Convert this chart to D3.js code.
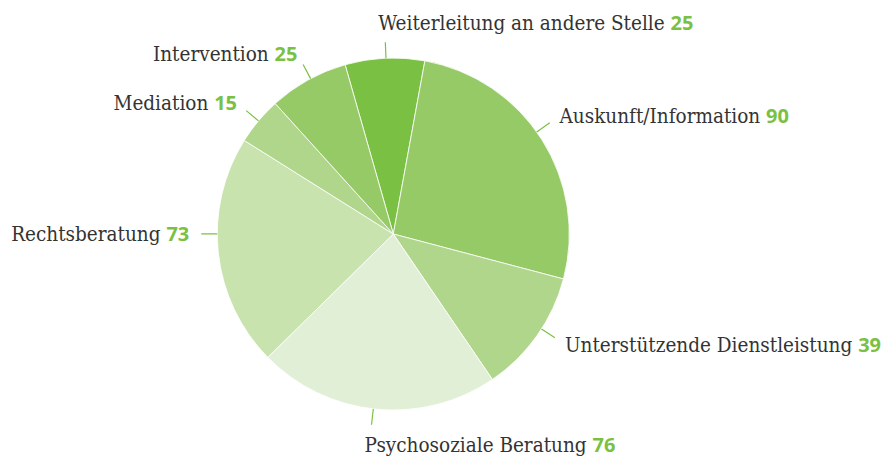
<!DOCTYPE html>
<html>
<head>
<meta charset="utf-8">
<script src="https://cdn.jsdelivr.net/npm/d3@7"></script>
<style>
  html, body { margin: 0; padding: 0; background: #fff; }
  svg { display: block; }
  .lbl { font-family: "DejaVu Serif Condensed", "DejaVu Serif", serif; font-stretch: condensed; font-size: 20.5px; fill: #333; }
  .num { font-family: "Open Sans", "DejaVu Sans", sans-serif; font-stretch: normal; font-weight: 700; font-size: 20px; fill: #7ac143; }
</style>
</head>
<body>
<svg id="chart" width="889" height="459"></svg>
<script>
// ---- data ----
const categories = [
  "Weiterleitung an andere Stelle",
  "Auskunft/Information",
  "Unterstützende Dienstleistung",
  "Psychosoziale Beratung",
  "Rechtsberatung",
  "Mediation",
  "Intervention"
];
const values = [25, 90, 39, 76, 73, 15, 25];
const colors = ["#7ac143", "#95ca66", "#b0d68c", "#e0efd5", "#c8e3ae", "#b0d68c", "#95ca66"];

// ---- layout ----
const W = 889, H = 459;
const cx = 393.3, cy = 234, R = 176;
const startDeg = -15.9;
const tickLen = 16, labelGap = 12;
// small label-angle nudges (degrees) to mimic the original label placement
const labelNudge = {"Weiterleitung an andere Stelle": 0.4, "Auskunft/Information": -3, "Unterstützende Dienstleistung": -2.6,
  "Psychosoziale Beratung": 0.9, "Rechtsberatung": 6.2, "Mediation": 0, "Intervention": 1};

const svg = d3.select("#chart");
const g = svg.append("g").attr("transform", `translate(${cx},${cy})`);

const data = categories.map((c, i) => ({cat: c, value: values[i], color: colors[i]}));
const rad = Math.PI / 180;
const pie = d3.pie().value(d => d.value).sort(null)
  .startAngle(startDeg * rad).endAngle((startDeg + 360) * rad);
const arcs = pie(data);
const arc = d3.arc().innerRadius(0).outerRadius(R);

g.selectAll("path.slice").data(arcs).join("path")
  .attr("class", "slice")
  .attr("d", arc)
  .attr("fill", d => d.data.color)
  .attr("stroke", "#fff")
  .attr("stroke-width", 0.8)
  .attr("stroke-linejoin", "round");

const capH = 14.8;
arcs.forEach(a => {
  const ang = (a.startAngle + a.endAngle) / 2 + (labelNudge[a.data.cat] || 0) * rad;
  const s = Math.sin(ang), c = -Math.cos(ang);
  const p0 = [R * s, R * c], p1 = [(R + tickLen) * s, (R + tickLen) * c];
  const pl = [(R + tickLen + labelGap) * s, (R + tickLen + labelGap) * c];
  g.append("line")
    .attr("x1", p0[0]).attr("y1", p0[1]).attr("x2", p1[0]).attr("y2", p1[1])
    .attr("stroke", "#7ac143").attr("stroke-width", 1.2);
  let x, y, anchor;
  if (Math.abs(s) > 0.3) {
    x = pl[0]; y = pl[1] + capH / 2; anchor = s > 0 ? "start" : "end";
  } else {
    x = p1[0] - 7; anchor = "start";
    y = c < 0 ? p1[1] - labelGap : p1[1] + labelGap + capH;
  }
  const t = g.append("text").attr("class", "lbl")
    .attr("x", x).attr("y", y).attr("text-anchor", anchor);
  t.append("tspan").text(a.data.cat + " ");
  t.append("tspan").attr("class", "num").text(a.data.value);
});
</script>
</body>
</html>
